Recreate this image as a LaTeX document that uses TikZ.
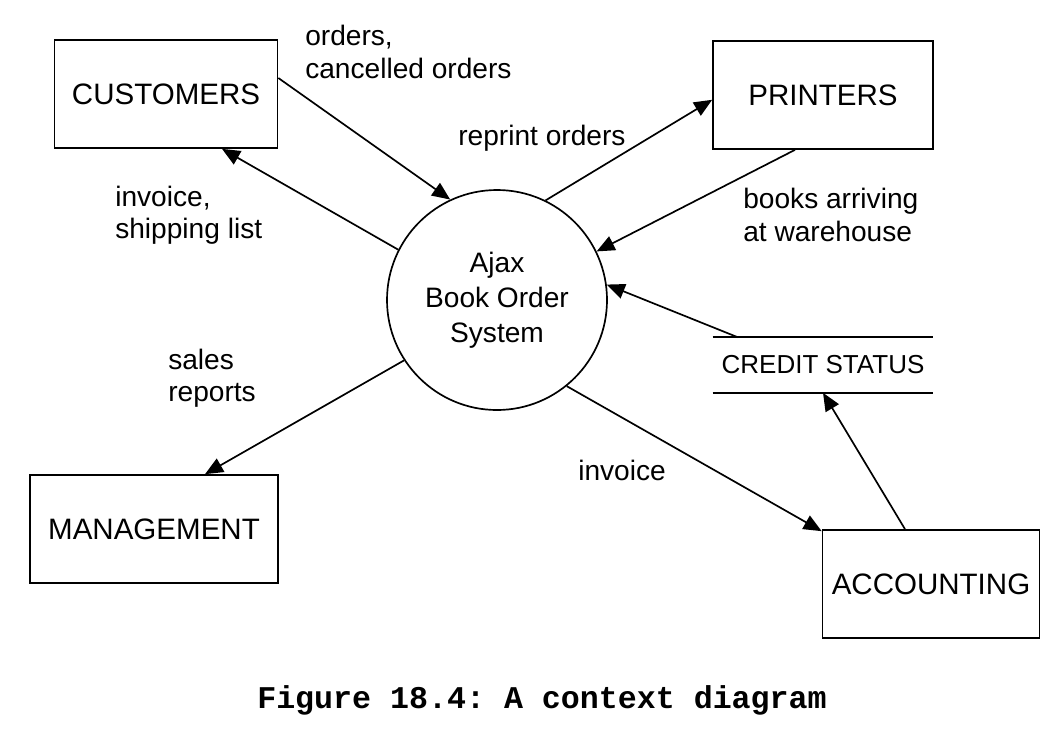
\documentclass[tikz,border=0pt]{standalone}
\usepackage{fontspec}
\setmainfont{Liberation Sans}
\newfontfamily\capfont{Liberation Mono}
\usepackage{tikz}
\usetikzlibrary{
    arrows.meta,
    positioning,
    calc
}
\frenchspacing
\tikzstyle{entity} = [
    rectangle,
    draw=black,
    line width=1.2pt,
    minimum height=2.7cm,
    text centered,
    font=\fontsize{21}{24}\selectfont
]
\tikzstyle{process} = [
    circle,
    draw=black,
    line width=1.2pt,
    minimum size=5.5cm,
    align=center,
    font=\fontsize{20}{25}\selectfont
]
\tikzstyle{store} = [
    rectangle,
    minimum width=5.5cm,
    minimum height=1.375cm,
    text centered,
    font=\fontsize{18.5}{20}\selectfont
]
\tikzstyle{flowlabel} = [
    anchor=west,
    align=left,
    inner sep=0pt,
    font=\fontsize{20}{23}\selectfont
]
\tikzstyle{arrow} = [
    -{Triangle[length=0.45cm,width=0.38cm]},
    line width=1.2pt,
    draw=black
]

\begin{document}
\begin{tikzpicture}
        \useasboundingbox (0,0) rectangle (26.425,-18.325);

        % Central process
        \node[process] (sys) at (12.425,-7.5) {Ajax\\Book Order\\System};

        % External entities
        \node[entity, minimum width=5.575cm] (cust) at (4.15,-2.35) {CUSTOMERS};
        \node[entity, minimum width=5.5cm] (print) at (20.575,-2.375) {PRINTERS};
        \node[entity, minimum width=6.2cm] (mgmt) at (3.85,-13.225) {MANAGEMENT};
        \node[entity, minimum width=5.425cm] (acct) at (23.275,-14.6) {ACCOUNTING};

        % Data store
        \node[store] (credit) at (20.575,-9.125) {CREDIT STATUS};
        \draw[line width=1.2pt] (credit.north west) -- (credit.north east);
        \draw[line width=1.2pt] (credit.south west) -- (credit.south east);

        % Flows
        \draw[arrow] ([yshift=0.4cm]cust.east) -- (sys.115);
        \draw[arrow] (sys.153) -- ([xshift=1.4cm]cust.south);
        \draw[arrow] (sys.64) -- ([yshift=-0.12cm]print.west);
        \draw[arrow] ([xshift=-0.7cm]print.south) -- (sys.26);
        \draw[arrow] ([xshift=0.625cm]credit.north west) -- (sys.8);
        \draw[arrow] (sys.213) -- ([xshift=1.275cm]mgmt.north);
        \draw[arrow] (sys.309) -- ([yshift=-0.05cm]acct.north west);
        \draw[arrow] ([xshift=-0.65cm]acct.north) -- (credit.south);

        % Flow labels
        \node[flowlabel] (lorders) at (7.625,-1.3) {orders,\\cancelled orders};
        \node[flowlabel] (lreprint) at (11.45,-3.45) {reprint orders};
        \node[flowlabel] (linvship) at (2.875,-5.375) {invoice,\\shipping list};
        \node[flowlabel] (lbooks) at (18.575,-5.375) {books arriving\\at warehouse};
        \node[flowlabel] (lsales) at (4.2,-9.45) {sales\\reports};
        \node[flowlabel] (linvoice) at (14.45,-11.75) {invoice};

        % Caption
        \node[font=\capfont\bfseries\fontsize{22.5}{26}\selectfont] (cap) at (13.55,-17.5) {Figure 18.4: A context diagram};
    \end{tikzpicture}
\end{document}
